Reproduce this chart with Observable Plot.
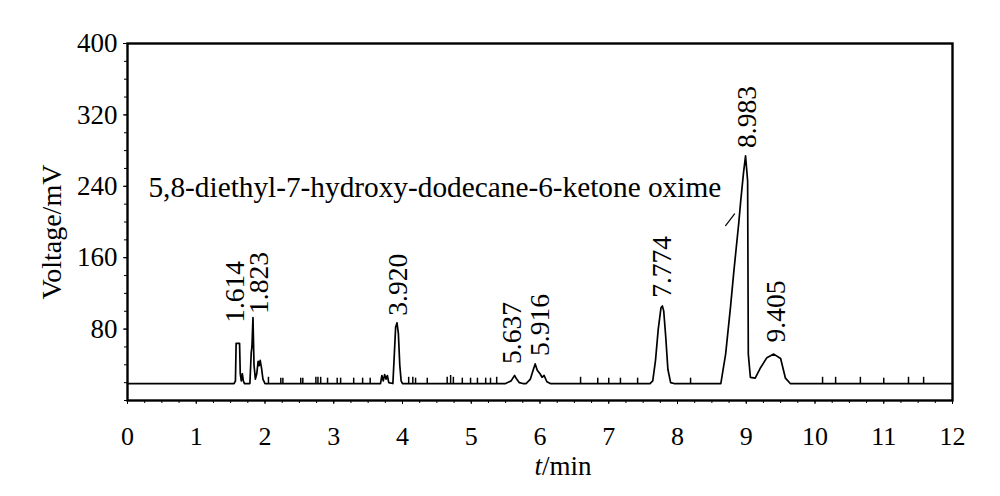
<!DOCTYPE html>
<html><head><meta charset="utf-8">
<script src="https://cdn.jsdelivr.net/npm/d3@7"></script>
<script src="https://cdn.jsdelivr.net/npm/@observablehq/plot@0.6"></script>
<style>
body{margin:0;background:#fff}
#chart svg, #chart svg text {font-family: "Liberation Serif", "Times New Roman", serif !important;}
</style>
</head><body><div id="chart"></div>
<script>
// chromatogram trace: [t (min), voltage (mV)]
const trace = [
  [0,19],[1.55,19],[1.57,22],[1.58,64],[1.63,64],[1.64,30],[1.655,22],[1.67,30],[1.685,22],[1.70,19],
  [1.78,19],[1.80,54],[1.81,60],[1.825,93],[1.84,40],[1.86,24],[1.88,30],[1.90,44],[1.915,39],[1.93,45],
  [1.95,36],[1.97,24],[2.0,19],
  [3.68,19],[3.70,28],[3.72,22],[3.74,29],[3.76,24],[3.78,28],[3.80,20],[3.86,19],[3.88,50],[3.90,82],
  [3.92,87],[3.94,75],[3.96,40],[3.98,22],[4.0,19],
  [5.50,19],[5.58,22],[5.63,28],[5.66,24],[5.70,20],[5.75,19],[5.80,19],[5.86,24],[5.90,34],[5.93,41],
  [5.96,34],[6.0,30],[6.03,26],[6.06,28],[6.10,21],[6.15,19],
  [7.60,19],[7.64,22],[7.68,45],[7.72,80],[7.76,104],[7.78,106],[7.80,100],[7.83,70],[7.86,35],[7.90,20],[7.95,19],
  [8.60,19],[8.63,19],[8.70,52],[8.77,104],[8.82,145],[8.89,198],[8.92,224],[8.96,255],[8.99,274],[9.02,246],
  [9.03,52],[9.06,26],[9.13,25],[9.21,37],[9.30,48],[9.40,52],[9.50,47],[9.57,25],[9.64,19],[12,19]
];
const baseline = 19;
// small noise spikes on the baseline
const spikeT = [2.05,2.23,2.26,2.52,2.55,2.74,2.77,2.81,2.91,3.05,3.10,3.29,3.42,3.53,4.09,4.15,4.19,4.36,4.65,4.70,4.74,4.87,4.99,5.09,5.21,5.28,5.37,6.59,6.84,7.00,7.17,7.42,8.19,10.11,10.30,10.66,11.00,11.36,11.58];
const spikeH = [7,6,6,6,6,7,7,7,6,6,6,6,6,6,7,7,6,6,7,9,7,6,6,6,6,6,7,7,6,6,6,6,6,7,7,7,6,7,7];
// peak labels
const peakNames = ["1.614","1.823","3.920","5.637","5.916","7.774","8.983","9.405"];
const peakLabelT = [1.56,1.92,3.93,5.60,6.00,7.77,9.02,9.43];
const peakLabelV = [87,97,95,41,50,115,283,65];
// annotation
const annText = "5,8-diethyl-7-hydroxy-dodecane-6-ketone oxime";
const annT = 0.305, annV = 238;
const leaderT = [8.70, 8.83], leaderV = [196, 209];
// axes
const xTicks = d3.range(0, 13, 1);
const xMinorTicks = d3.range(0, 12.001, 0.25);
const yTicks = [80,160,240,320,400];
const yMinorTicks = d3.range(0, 401, 20);

const spikes = spikeT.map((t,i)=>({t, h: spikeH[i]}));
const labels = peakNames.map((s,i)=>({s, t: peakLabelT[i], v: peakLabelV[i]}));
const leader = leaderT.map((t,i)=>({t, v: leaderV[i]}));

const serif = "Liberation Serif";
const chart = Plot.plot({
  width: 1000, height: 496,
  marginLeft: 127, marginRight: 48, marginTop: 43, marginBottom: 96,
  x: {domain: [0, 12]},
  y: {domain: [0, 400]},
  style: {fontFamily: serif, color: "#000", background: "#fff", overflow: "visible"},
  marks: [
    Plot.axisY({ticks: yMinorTicks, tickSize: 3, tickFormat: () => "", label: null}),
    Plot.axisY({ticks: yTicks, tickSize: 4, tickPadding: 6, fontSize: 27, fontFamily: serif, label: null}),
    Plot.axisX({ticks: xMinorTicks, tickSize: 3, tickFormat: () => "", label: null}),
    Plot.axisX({ticks: xTicks, tickSize: 4, tickPadding: 22, fontSize: 26, fontFamily: serif, label: null}),
    Plot.frame({stroke: "#000", strokeWidth: 2.4}),
    Plot.ruleX(spikes, {x: "t", y1: () => baseline, y2: d => baseline + d.h, stroke: "#000", strokeWidth: 1.5}),
    Plot.line(trace, {x: d => d[0], y: d => d[1], stroke: "#000", strokeWidth: 1.7}),
    Plot.text(labels, {x: "t", y: "v", text: "s", rotate: -90, textAnchor: "start", fontSize: 27.5, fontFamily: serif, fill: "#000"}),
    Plot.text([annText], {x: () => annT, y: () => annV, text: d => d, textAnchor: "start", fontSize: 29.3, fontFamily: serif, fill: "#000"}),
    Plot.line(leader, {x: "t", y: "v", stroke: "#000", strokeWidth: 1.2}),
    Plot.text(["Voltage/mV"], {frameAnchor: "left", rotate: -90, textAnchor: "middle", lineAnchor: "middle", dx: -75, dy: 10, fontSize: 28, fontFamily: serif, fill: "#000"}),
    Plot.text(["t"], {frameAnchor: "bottom", dx: 2, dy: 66, textAnchor: "end", lineAnchor: "middle", fontStyle: "italic", fontSize: 27, fontFamily: serif, fill: "#000"}),
    Plot.text(["/min"], {frameAnchor: "bottom", dx: 2, dy: 66, textAnchor: "start", lineAnchor: "middle", fontSize: 27, fontFamily: serif, fill: "#000"})
  ]
});
document.getElementById("chart").appendChild(chart);
</script>
</body></html>
